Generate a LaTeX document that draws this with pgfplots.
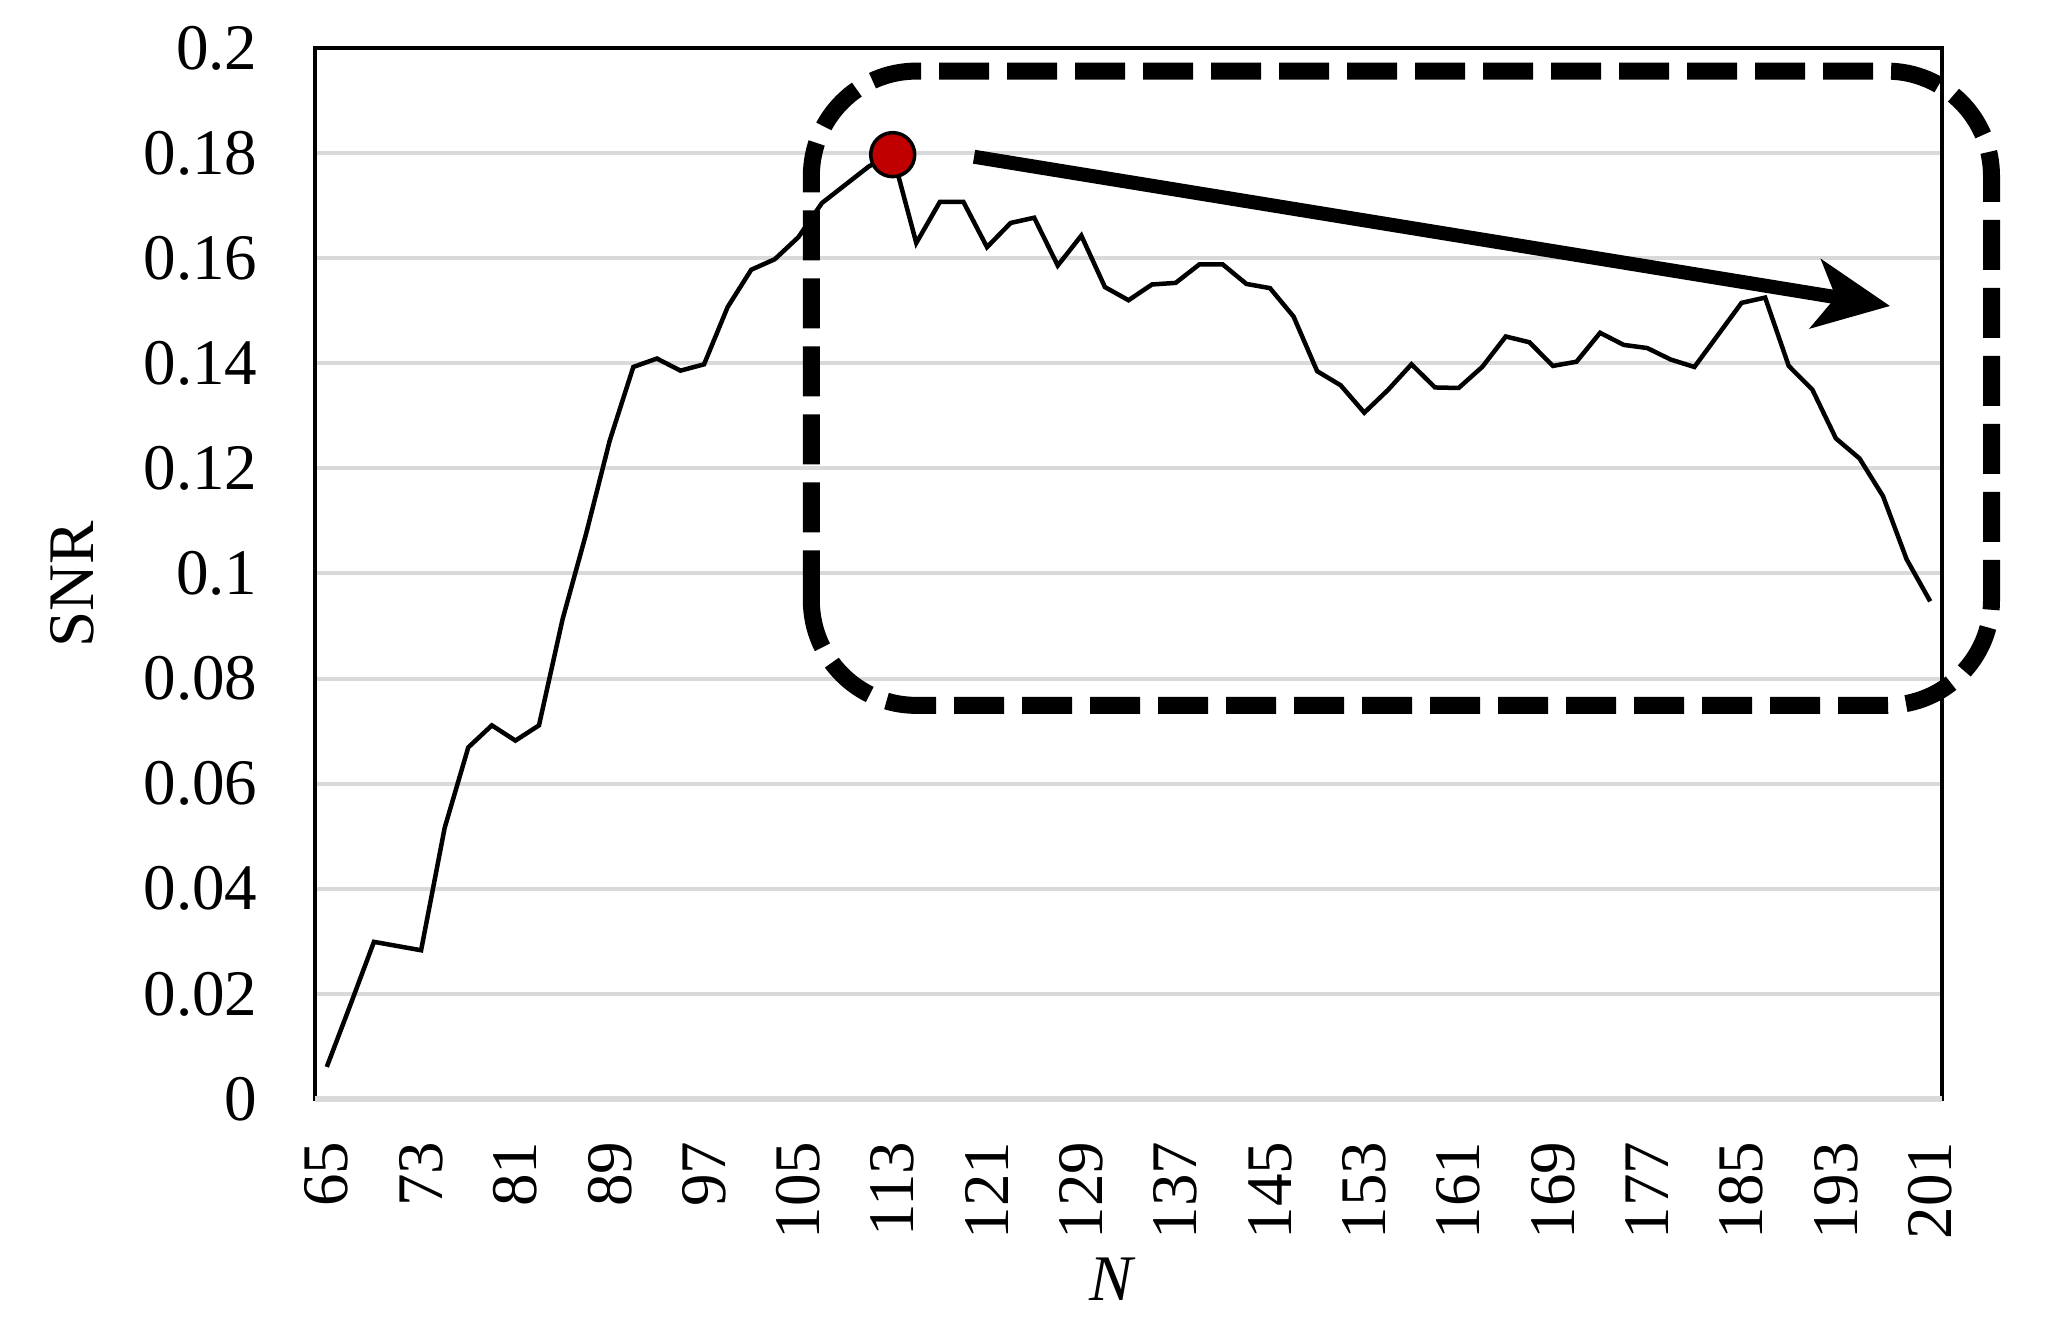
\documentclass[border=0pt]{standalone}
\usepackage{fontspec}
\setmainfont{Liberation Serif}
\usepackage{pgfplots}
\pgfplotsset{compat=1.18}
\usetikzlibrary{arrows.meta}
\definecolor{gridgray}{RGB}{217,217,217}
\definecolor{darkred}{RGB}{192,0,0}
\pgfplotstableread{
N snr
65 0.0061
67 0.0179
69 0.0299
71 0.0291
73 0.0283
75 0.0516
77 0.0669
79 0.0711
81 0.0682
83 0.0711
85 0.0913
87 0.1076
89 0.1253
91 0.1393
93 0.1409
95 0.1386
97 0.1398
99 0.1507
101 0.1578
103 0.1598
105 0.1640
107 0.1705
109 0.1740
111 0.1775
113 0.1797
115 0.1629
117 0.1707
119 0.1707
121 0.1621
123 0.1667
125 0.1677
127 0.1586
129 0.1643
131 0.1545
133 0.1520
135 0.1550
137 0.1553
139 0.1588
141 0.1588
143 0.1551
145 0.1543
147 0.1489
149 0.1385
151 0.1358
153 0.1306
155 0.1349
157 0.1398
159 0.1354
161 0.1353
163 0.1393
165 0.1451
167 0.1440
169 0.1395
171 0.1403
173 0.1458
175 0.1435
177 0.1429
179 0.1407
181 0.1393
183 0.1454
185 0.1515
187 0.1525
189 0.1395
191 0.1350
193 0.1257
195 0.1219
197 0.1147
199 0.1027
201 0.0947
}\snrdata
\begin{document}
\begin{tikzpicture}[font=\fontsize{18.5}{22}\selectfont]
\useasboundingbox (-3.15,-2.27) rectangle (17.42,10.99);
\begin{axis}[
  at={(0,0)}, anchor=south west,
  scale only axis, width=16.27cm, height=10.51cm,
  xmin=64, xmax=202, ymin=0, ymax=0.2,
  xtick={65,73,81,89,97,105,113,121,129,137,145,153,161,169,177,185,193,201},
  xticklabels={65,73,81,89,97,105,113,121,129,137,145,153,161,169,177,185,193,201},
  ytick={0,0.02,0.04,0.06,0.08,0.1,0.12,0.14,0.16,0.18,0.2},
  yticklabels={0,0.02,0.04,0.06,0.08,0.1,0.12,0.14,0.16,0.18,0.2},
  scaled ticks=false,
  tick style={draw=none},
  major tick length=0pt,
  ymajorgrids,
  grid style={gridgray, line width=0.04cm},
  axis line style={black, line width=0.04cm},
  xticklabel style={font=\fontsize{18.5}{22}\selectfont, rotate=90, anchor=east, inner sep=0pt},
  xticklabel shift=0.42cm,
  yticklabel style={font=\fontsize{18.5}{22}\selectfont, anchor=east, inner sep=0pt},
  yticklabel shift=0.57cm,
  xlabel={\textit{N}},
  ylabel={SNR},
  every axis x label/.style={at={(axis description cs:0.49,-0.1713)}, anchor=center, font=\fontsize{18.5}{22}\selectfont},
  every axis y label/.style={at={(axis description cs:-0.1494,0.49)}, rotate=90, anchor=center, font=\fontsize{18.5}{22}\selectfont},
  clip=false,
]
\addplot[black, line width=0.045cm, sharp plot, mark=none] table[x=N, y=snr] {\snrdata};
\draw[gridgray, line width=0.06cm] (rel axis cs:0,0) -- (rel axis cs:1,0);
\draw[black, line width=0.17cm, dash pattern=on 0.5cm off 0.18cm, rounded corners=1.05cm]
  (axis cs:106.1,0.0749) rectangle (axis cs:206.2,0.1956);
\draw[black, line width=0.14cm, -{Stealth[length=0.75cm, width=0.69cm, inset=0.2cm]}]
  (axis cs:119.9,0.1793) -- (axis cs:197.6,0.1509);
\addplot[only marks, mark=*, mark size=0.22cm, mark options={fill=darkred, draw=black, line width=0.035cm}]
  coordinates {(113,0.1797)};
\end{axis}
\end{tikzpicture}
\end{document}
